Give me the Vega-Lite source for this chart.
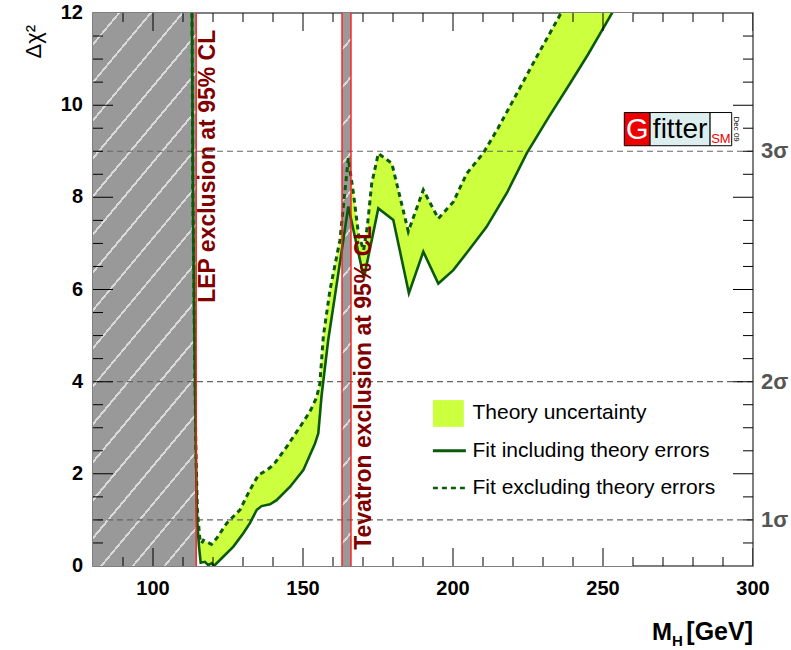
{
 "$schema": "https://vega.github.io/schema/vega-lite/v6.json",
 "width": 660, "height": 553,
 "autosize": {"type": "none"},
 "padding": {"left": 93, "top": 13, "right": 38, "bottom": 84},
 "background": "white",
 "config": {"view": {"stroke": "#555", "strokeWidth": 1.5}, "font": "Liberation Sans", "axis": {"grid": false, "domain": false}},
 "datasets": {
  "dashed": [
   {"x":113.0,"y":12.0},{"x":113.3,"y":8.0},{"x":113.8,"y":5.0},{"x":114.3,"y":2.5},{"x":114.8,"y":1.2},{"x":115.6,"y":0.6},{"x":116.2,"y":0.49},{"x":116.8,"y":0.56},{"x":118.0,"y":0.52},{"x":119.5,"y":0.47},{"x":121.2,"y":0.6},{"x":124.6,"y":0.93},{"x":129.0,"y":1.22},{"x":132.3,"y":1.65},{"x":135.1,"y":1.97},{"x":137.9,"y":2.08},{"x":140.1,"y":2.19},{"x":144.6,"y":2.59},{"x":149.0,"y":3.02},{"x":152.3,"y":3.35},{"x":154.5,"y":3.65},{"x":155.6,"y":3.95},{"x":156.8,"y":5.0},{"x":159.0,"y":5.99},{"x":162.3,"y":7.07},{"x":165.1,"y":8.85},{"x":166.8,"y":8.09},{"x":168.5,"y":7.2},{"x":170.2,"y":6.85},{"x":171.5,"y":7.4},{"x":172.9,"y":8.3},{"x":175.1,"y":8.95},{"x":179.6,"y":8.74},{"x":185.1,"y":7.26},{"x":190.1,"y":8.16},{"x":195.1,"y":7.54},{"x":200.1,"y":7.9},{"x":204.6,"y":8.52},{"x":210.1,"y":8.96},{"x":215.0,"y":9.5},{"x":220.1,"y":10.11},{"x":227.9,"y":11.05},{"x":235.7,"y":11.96},{"x":245.0,"y":13.1},{"x":260.0,"y":14.9}
  ],
  "solid": [
   {"x":113.0,"y":12.0},{"x":113.3,"y":8.0},{"x":113.8,"y":5.0},{"x":114.3,"y":2.5},{"x":114.7,"y":1.0},{"x":115.3,"y":0.45},{"x":115.9,"y":0.07},{"x":117.3,"y":0.09},{"x":118.4,"y":0.02},{"x":119.6,"y":0.06},{"x":120.3,"y":0.0},{"x":123.4,"y":0.2},{"x":126.8,"y":0.42},{"x":130.1,"y":0.71},{"x":132.3,"y":0.93},{"x":134.6,"y":1.22},{"x":136.2,"y":1.3},{"x":139.0,"y":1.34},{"x":141.2,"y":1.43},{"x":145.7,"y":1.72},{"x":150.1,"y":2.08},{"x":154.0,"y":2.66},{"x":155.1,"y":2.88},{"x":156.2,"y":3.7},{"x":158.4,"y":4.9},{"x":161.2,"y":6.1},{"x":165.1,"y":7.8},{"x":170.3,"y":6.25},{"x":175.1,"y":7.76},{"x":180.1,"y":7.51},{"x":185.3,"y":5.92},{"x":190.1,"y":6.82},{"x":195.1,"y":6.13},{"x":200.1,"y":6.42},{"x":205.0,"y":6.83},{"x":211.2,"y":7.36},{"x":218.0,"y":8.1},{"x":224.6,"y":8.96},{"x":232.0,"y":9.75},{"x":239.0,"y":10.47},{"x":245.0,"y":11.1},{"x":250.1,"y":11.67},{"x":253.0,"y":12.0},{"x":260.0,"y":12.8}
  ],
  "xmaj": [{"v":100},{"v":150},{"v":200},{"v":250},{"v":300}],
  "xmin": [{"v":90},{"v":110},{"v":120},{"v":130},{"v":140},{"v":160},{"v":170},{"v":180},{"v":190},{"v":210},{"v":220},{"v":230},{"v":240},{"v":260},{"v":270},{"v":280},{"v":290}],
  "ymaj": [{"v":2},{"v":4},{"v":6},{"v":8},{"v":10}],
  "ylab": [{"v":0},{"v":2},{"v":4},{"v":6},{"v":8},{"v":10},{"v":12}],
  "ymin": [{"v":0.5},{"v":1},{"v":1.5},{"v":2.5},{"v":3},{"v":3.5},{"v":4.5},{"v":5},{"v":5.5},{"v":6.5},{"v":7},{"v":7.5},{"v":8.5},{"v":9},{"v":9.5},{"v":10.5},{"v":11},{"v":11.5}]
 },
 "layer": [
  {
   "data": {"name": "dashed"},
   "mark": {"type": "area", "color": "#ccff3d", "clip": true},
   "encoding": {
    "x": {"field": "x", "type": "quantitative", "scale": {"domain": [80, 300], "nice": false, "zero": false}, "axis": null},
    "y": {"field": "y", "type": "quantitative", "scale": {"domain": [0, 12], "nice": false, "zero": false}, "axis": null}
   }
  },
  {
   "data": {"name": "solid"},
   "mark": {"type": "area", "color": "#ffffff", "clip": true},
   "encoding": {
    "x": {"field": "x", "type": "quantitative", "scale": {"domain": [80, 300], "nice": false, "zero": false}, "axis": null},
    "y": {"field": "y", "type": "quantitative", "scale": {"domain": [0, 12], "nice": false, "zero": false}, "axis": null}
   }
  },
  {
   "data": {"values": [{}]},
   "mark": {"type": "rect", "stroke": null, "fill": {"gradient": "linear", "x1": 0, "y1": 0, "x2": 0.261, "y2": 1.1655, "stops": [
     {"offset": 0, "color": "#999999"},
     {"offset": 0.044, "color": "#999999"},{"offset": 0.044, "color": "#d9d9d9"},{"offset": 0.0486, "color": "#d9d9d9"},{"offset": 0.0486, "color": "#999999"},
     {"offset": 0.1001, "color": "#999999"},{"offset": 0.1001, "color": "#d9d9d9"},{"offset": 0.1047, "color": "#d9d9d9"},{"offset": 0.1047, "color": "#999999"},
     {"offset": 0.1562, "color": "#999999"},{"offset": 0.1562, "color": "#d9d9d9"},{"offset": 0.1608, "color": "#d9d9d9"},{"offset": 0.1608, "color": "#999999"},
     {"offset": 0.2123, "color": "#999999"},{"offset": 0.2123, "color": "#d9d9d9"},{"offset": 0.2169, "color": "#d9d9d9"},{"offset": 0.2169, "color": "#999999"},
     {"offset": 0.2684, "color": "#999999"},{"offset": 0.2684, "color": "#d9d9d9"},{"offset": 0.2730, "color": "#d9d9d9"},{"offset": 0.2730, "color": "#999999"},
     {"offset": 0.3245, "color": "#999999"},{"offset": 0.3245, "color": "#d9d9d9"},{"offset": 0.3291, "color": "#d9d9d9"},{"offset": 0.3291, "color": "#999999"},
     {"offset": 0.3806, "color": "#999999"},{"offset": 0.3806, "color": "#d9d9d9"},{"offset": 0.3852, "color": "#d9d9d9"},{"offset": 0.3852, "color": "#999999"},
     {"offset": 0.4367, "color": "#999999"},{"offset": 0.4367, "color": "#d9d9d9"},{"offset": 0.4413, "color": "#d9d9d9"},{"offset": 0.4413, "color": "#999999"},
     {"offset": 0.4928, "color": "#999999"},{"offset": 0.4928, "color": "#d9d9d9"},{"offset": 0.4974, "color": "#d9d9d9"},{"offset": 0.4974, "color": "#999999"},
     {"offset": 0.5489, "color": "#999999"},{"offset": 0.5489, "color": "#d9d9d9"},{"offset": 0.5535, "color": "#d9d9d9"},{"offset": 0.5535, "color": "#999999"},
     {"offset": 0.6050, "color": "#999999"},{"offset": 0.6050, "color": "#d9d9d9"},{"offset": 0.6096, "color": "#d9d9d9"},{"offset": 0.6096, "color": "#999999"},
     {"offset": 0.6611, "color": "#999999"},{"offset": 0.6611, "color": "#d9d9d9"},{"offset": 0.6657, "color": "#d9d9d9"},{"offset": 0.6657, "color": "#999999"},
     {"offset": 0.7172, "color": "#999999"},{"offset": 0.7172, "color": "#d9d9d9"},{"offset": 0.7218, "color": "#d9d9d9"},{"offset": 0.7218, "color": "#999999"},
     {"offset": 0.7733, "color": "#999999"},{"offset": 0.7733, "color": "#d9d9d9"},{"offset": 0.7779, "color": "#d9d9d9"},{"offset": 0.7779, "color": "#999999"},
     {"offset": 0.8294, "color": "#999999"},{"offset": 0.8294, "color": "#d9d9d9"},{"offset": 0.8340, "color": "#d9d9d9"},{"offset": 0.8340, "color": "#999999"},
     {"offset": 0.8855, "color": "#999999"},{"offset": 0.8855, "color": "#d9d9d9"},{"offset": 0.8901, "color": "#d9d9d9"},{"offset": 0.8901, "color": "#999999"},
     {"offset": 0.9416, "color": "#999999"},{"offset": 0.9416, "color": "#d9d9d9"},{"offset": 0.9462, "color": "#d9d9d9"},{"offset": 0.9462, "color": "#999999"},
     {"offset": 1, "color": "#999999"}
   ]}},
   "encoding": {
    "x": {"datum": 80, "type": "quantitative", "scale": {"domain": [80, 300], "nice": false, "zero": false}, "axis": null},
    "x2": {"datum": 114.4},
    "y": {"datum": 0, "type": "quantitative", "scale": {"domain": [0, 12], "nice": false, "zero": false}, "axis": null},
    "y2": {"datum": 12}
   }
  },
  {
   "data": {"values": [{}]},
   "mark": {"type": "rect", "stroke": null, "fill": {"gradient": "linear", "x1": 0, "y1": 0, "x2": 0.0199, "y2": 1.0191, "stops": [
     {"offset": 0, "color": "#999999"},
     {"offset": 0.0624, "color": "#999999"},{"offset": 0.0624, "color": "#d9d9d9"},{"offset": 0.0679, "color": "#d9d9d9"},{"offset": 0.0679, "color": "#999999"},
     {"offset": 0.1298, "color": "#999999"},{"offset": 0.1298, "color": "#d9d9d9"},{"offset": 0.1353, "color": "#d9d9d9"},{"offset": 0.1353, "color": "#999999"},
     {"offset": 0.1972, "color": "#999999"},{"offset": 0.1972, "color": "#d9d9d9"},{"offset": 0.2027, "color": "#d9d9d9"},{"offset": 0.2027, "color": "#999999"},
     {"offset": 0.2646, "color": "#999999"},{"offset": 0.2646, "color": "#d9d9d9"},{"offset": 0.2701, "color": "#d9d9d9"},{"offset": 0.2701, "color": "#999999"},
     {"offset": 0.3320, "color": "#999999"},{"offset": 0.3320, "color": "#d9d9d9"},{"offset": 0.3375, "color": "#d9d9d9"},{"offset": 0.3375, "color": "#999999"},
     {"offset": 0.3994, "color": "#999999"},{"offset": 0.3994, "color": "#d9d9d9"},{"offset": 0.4049, "color": "#d9d9d9"},{"offset": 0.4049, "color": "#999999"},
     {"offset": 0.4668, "color": "#999999"},{"offset": 0.4668, "color": "#d9d9d9"},{"offset": 0.4723, "color": "#d9d9d9"},{"offset": 0.4723, "color": "#999999"},
     {"offset": 0.5342, "color": "#999999"},{"offset": 0.5342, "color": "#d9d9d9"},{"offset": 0.5397, "color": "#d9d9d9"},{"offset": 0.5397, "color": "#999999"},
     {"offset": 0.6016, "color": "#999999"},{"offset": 0.6016, "color": "#d9d9d9"},{"offset": 0.6071, "color": "#d9d9d9"},{"offset": 0.6071, "color": "#999999"},
     {"offset": 0.6690, "color": "#999999"},{"offset": 0.6690, "color": "#d9d9d9"},{"offset": 0.6745, "color": "#d9d9d9"},{"offset": 0.6745, "color": "#999999"},
     {"offset": 0.7364, "color": "#999999"},{"offset": 0.7364, "color": "#d9d9d9"},{"offset": 0.7419, "color": "#d9d9d9"},{"offset": 0.7419, "color": "#999999"},
     {"offset": 0.8038, "color": "#999999"},{"offset": 0.8038, "color": "#d9d9d9"},{"offset": 0.8093, "color": "#d9d9d9"},{"offset": 0.8093, "color": "#999999"},
     {"offset": 0.8712, "color": "#999999"},{"offset": 0.8712, "color": "#d9d9d9"},{"offset": 0.8767, "color": "#d9d9d9"},{"offset": 0.8767, "color": "#999999"},
     {"offset": 0.9386, "color": "#999999"},{"offset": 0.9386, "color": "#d9d9d9"},{"offset": 0.9441, "color": "#d9d9d9"},{"offset": 0.9441, "color": "#999999"},
     {"offset": 1, "color": "#999999"}
   ]}},
   "encoding": {
    "x": {"datum": 163, "type": "quantitative", "scale": {"domain": [80, 300], "nice": false, "zero": false}, "axis": null},
    "x2": {"datum": 166},
    "y": {"datum": 0, "type": "quantitative", "scale": {"domain": [0, 12], "nice": false, "zero": false}, "axis": null},
    "y2": {"datum": 12}
   }
  },
  {
   "data": {"values": [{"s": 1}, {"s": 4}, {"s": 9}]},
   "mark": {"type": "rule", "color": "#666666", "strokeWidth": 1.2, "strokeDash": [6, 4]},
   "encoding": {
    "y": {"field": "s", "type": "quantitative", "scale": {"domain": [0, 12], "nice": false, "zero": false}, "axis": null}
   }
  },
  {
   "data": {"name": "solid"},
   "mark": {"type": "line", "color": "#0b5a0b", "strokeWidth": 2.6, "clip": true},
   "encoding": {
    "x": {"field": "x", "type": "quantitative", "scale": {"domain": [80, 300], "nice": false, "zero": false}, "axis": null},
    "y": {"field": "y", "type": "quantitative", "scale": {"domain": [0, 12], "nice": false, "zero": false}, "axis": null}
   }
  },
  {
   "data": {"name": "dashed"},
   "mark": {"type": "line", "color": "#0b5a0b", "strokeWidth": 3, "strokeDash": [5, 4], "clip": true},
   "encoding": {
    "x": {"field": "x", "type": "quantitative", "scale": {"domain": [80, 300], "nice": false, "zero": false}, "axis": null},
    "y": {"field": "y", "type": "quantitative", "scale": {"domain": [0, 12], "nice": false, "zero": false}, "axis": null}
   }
  },
  {
   "data": {"values": [{"m": 114.4}, {"m": 163}, {"m": 166}]},
   "mark": {"type": "rule", "color": "#ff1a1a", "strokeWidth": 1.4},
   "encoding": {
    "x": {"field": "m", "type": "quantitative", "scale": {"domain": [80, 300], "nice": false, "zero": false}, "axis": null}
   }
  },
  {
   "data": {"name": "xmaj"},
   "mark": {"type": "tick", "orient": "vertical", "size": 36, "thickness": 1, "color": "#000", "opacity": 1, "clip": true},
   "encoding": {
    "x": {"field": "v", "type": "quantitative", "scale": {"domain": [80, 300], "nice": false, "zero": false}, "axis": null},
    "y": {"datum": 0, "type": "quantitative", "scale": {"domain": [0, 12], "nice": false, "zero": false}, "axis": null}
   }
  },
  {
   "data": {"name": "xmaj"},
   "mark": {"type": "tick", "orient": "vertical", "size": 36, "thickness": 1, "color": "#000", "opacity": 1, "clip": true},
   "encoding": {
    "x": {"field": "v", "type": "quantitative", "scale": {"domain": [80, 300], "nice": false, "zero": false}, "axis": null},
    "y": {"datum": 12, "type": "quantitative", "scale": {"domain": [0, 12], "nice": false, "zero": false}, "axis": null}
   }
  },
  {
   "data": {"name": "xmin"},
   "mark": {"type": "tick", "orient": "vertical", "size": 18, "thickness": 1, "color": "#000", "opacity": 1, "clip": true},
   "encoding": {
    "x": {"field": "v", "type": "quantitative", "scale": {"domain": [80, 300], "nice": false, "zero": false}, "axis": null},
    "y": {"datum": 0, "type": "quantitative", "scale": {"domain": [0, 12], "nice": false, "zero": false}, "axis": null}
   }
  },
  {
   "data": {"name": "xmin"},
   "mark": {"type": "tick", "orient": "vertical", "size": 18, "thickness": 1, "color": "#000", "opacity": 1, "clip": true},
   "encoding": {
    "x": {"field": "v", "type": "quantitative", "scale": {"domain": [80, 300], "nice": false, "zero": false}, "axis": null},
    "y": {"datum": 12, "type": "quantitative", "scale": {"domain": [0, 12], "nice": false, "zero": false}, "axis": null}
   }
  },
  {
   "data": {"name": "ymaj"},
   "mark": {"type": "tick", "orient": "horizontal", "size": 40, "thickness": 1, "color": "#000", "opacity": 1, "clip": true},
   "encoding": {
    "y": {"field": "v", "type": "quantitative", "scale": {"domain": [0, 12], "nice": false, "zero": false}, "axis": null},
    "x": {"datum": 80, "type": "quantitative", "scale": {"domain": [80, 300], "nice": false, "zero": false}, "axis": null}
   }
  },
  {
   "data": {"name": "ymaj"},
   "mark": {"type": "tick", "orient": "horizontal", "size": 40, "thickness": 1, "color": "#000", "opacity": 1, "clip": true},
   "encoding": {
    "y": {"field": "v", "type": "quantitative", "scale": {"domain": [0, 12], "nice": false, "zero": false}, "axis": null},
    "x": {"datum": 300, "type": "quantitative", "scale": {"domain": [80, 300], "nice": false, "zero": false}, "axis": null}
   }
  },
  {
   "data": {"name": "ymin"},
   "mark": {"type": "tick", "orient": "horizontal", "size": 20, "thickness": 1, "color": "#000", "opacity": 1, "clip": true},
   "encoding": {
    "y": {"field": "v", "type": "quantitative", "scale": {"domain": [0, 12], "nice": false, "zero": false}, "axis": null},
    "x": {"datum": 80, "type": "quantitative", "scale": {"domain": [80, 300], "nice": false, "zero": false}, "axis": null}
   }
  },
  {
   "data": {"name": "ymin"},
   "mark": {"type": "tick", "orient": "horizontal", "size": 20, "thickness": 1, "color": "#000", "opacity": 1, "clip": true},
   "encoding": {
    "y": {"field": "v", "type": "quantitative", "scale": {"domain": [0, 12], "nice": false, "zero": false}, "axis": null},
    "x": {"datum": 300, "type": "quantitative", "scale": {"domain": [80, 300], "nice": false, "zero": false}, "axis": null}
   }
  },
  {
   "data": {"name": "xmaj"},
   "mark": {"type": "text", "align": "center", "baseline": "top", "dy": 13, "fontSize": 20, "fontWeight": "bold", "color": "#000"},
   "encoding": {
    "x": {"field": "v", "type": "quantitative", "scale": {"domain": [80, 300], "nice": false, "zero": false}, "axis": null},
    "y": {"datum": 0, "type": "quantitative", "scale": {"domain": [0, 12], "nice": false, "zero": false}, "axis": null},
    "text": {"field": "v", "type": "quantitative"}
   }
  },
  {
   "data": {"name": "ylab"},
   "mark": {"type": "text", "align": "right", "baseline": "middle", "dx": -10, "fontSize": 20, "fontWeight": "bold", "color": "#000"},
   "encoding": {
    "y": {"field": "v", "type": "quantitative", "scale": {"domain": [0, 12], "nice": false, "zero": false}, "axis": null},
    "x": {"datum": 80, "type": "quantitative", "scale": {"domain": [80, 300], "nice": false, "zero": false}, "axis": null},
    "text": {"field": "v", "type": "quantitative"}
   }
  },
  {
   "data": {"values": [{}]},
   "mark": {"type": "text", "text": "Δχ²", "angle": 270, "align": "right", "baseline": "alphabetic", "fontSize": 22, "color": "#000"},
   "encoding": {
    "x": {"datum": 62.67, "type": "quantitative", "scale": {"domain": [80, 300], "nice": false, "zero": false}, "axis": null},
    "y": {"datum": 11.74, "type": "quantitative", "scale": {"domain": [0, 12], "nice": false, "zero": false}, "axis": null}
   }
  },
  {
   "data": {"values": [{}]},
   "mark": {"type": "text", "text": "LEP exclusion at 95% CL", "angle": 270, "align": "left", "baseline": "alphabetic", "fontSize": 23, "fontWeight": "bold", "color": "#800000"},
   "encoding": {
    "x": {"datum": 120.67, "type": "quantitative", "scale": {"domain": [80, 300], "nice": false, "zero": false}, "axis": null},
    "y": {"datum": 5.71, "type": "quantitative", "scale": {"domain": [0, 12], "nice": false, "zero": false}, "axis": null}
   }
  },
  {
   "data": {"values": [{}]},
   "mark": {"type": "text", "text": "Tevatron exclusion at 95% CL", "angle": 270, "align": "left", "baseline": "alphabetic", "fontSize": 23, "fontWeight": "bold", "color": "#800000"},
   "encoding": {
    "x": {"datum": 172.5, "type": "quantitative", "scale": {"domain": [80, 300], "nice": false, "zero": false}, "axis": null},
    "y": {"datum": 0.35, "type": "quantitative", "scale": {"domain": [0, 12], "nice": false, "zero": false}, "axis": null}
   }
  },
  {
   "data": {"values": [{}]},
   "mark": {"type": "rect", "color": "#ccff3d"},
   "encoding": {
    "x": {"datum": 193.3, "type": "quantitative", "scale": {"domain": [80, 300], "nice": false, "zero": false}, "axis": null},
    "x2": {"datum": 203.6},
    "y": {"datum": 3.02, "type": "quantitative", "scale": {"domain": [0, 12], "nice": false, "zero": false}, "axis": null},
    "y2": {"datum": 3.6}
   }
  },
  {
   "data": {"values": [{}]},
   "mark": {"type": "rule", "color": "#0b5a0b", "strokeWidth": 3},
   "encoding": {
    "x": {"datum": 193.3, "type": "quantitative", "scale": {"domain": [80, 300], "nice": false, "zero": false}, "axis": null},
    "x2": {"datum": 204.3},
    "y": {"datum": 2.5, "type": "quantitative", "scale": {"domain": [0, 12], "nice": false, "zero": false}, "axis": null}
   }
  },
  {
   "data": {"values": [{}]},
   "mark": {"type": "rule", "color": "#0b5a0b", "strokeWidth": 2.5, "strokeDash": [5, 4]},
   "encoding": {
    "x": {"datum": 193.3, "type": "quantitative", "scale": {"domain": [80, 300], "nice": false, "zero": false}, "axis": null},
    "x2": {"datum": 204.3},
    "y": {"datum": 1.69, "type": "quantitative", "scale": {"domain": [0, 12], "nice": false, "zero": false}, "axis": null}
   }
  },
  {
   "data": {"values": [{}]},
   "mark": {"type": "text", "text": "Theory uncertainty", "align": "left", "baseline": "middle", "fontSize": 21, "color": "#000"},
   "encoding": {
    "x": {"datum": 206.5, "type": "quantitative", "scale": {"domain": [80, 300], "nice": false, "zero": false}, "axis": null},
    "y": {"datum": 3.31, "type": "quantitative", "scale": {"domain": [0, 12], "nice": false, "zero": false}, "axis": null}
   }
  },
  {
   "data": {"values": [{}]},
   "mark": {"type": "text", "text": "Fit including theory errors", "align": "left", "baseline": "middle", "fontSize": 21, "color": "#000"},
   "encoding": {
    "x": {"datum": 206.5, "type": "quantitative", "scale": {"domain": [80, 300], "nice": false, "zero": false}, "axis": null},
    "y": {"datum": 2.5, "type": "quantitative", "scale": {"domain": [0, 12], "nice": false, "zero": false}, "axis": null}
   }
  },
  {
   "data": {"values": [{}]},
   "mark": {"type": "text", "text": "Fit excluding theory errors", "align": "left", "baseline": "middle", "fontSize": 21, "color": "#000"},
   "encoding": {
    "x": {"datum": 206.5, "type": "quantitative", "scale": {"domain": [80, 300], "nice": false, "zero": false}, "axis": null},
    "y": {"datum": 1.69, "type": "quantitative", "scale": {"domain": [0, 12], "nice": false, "zero": false}, "axis": null}
   }
  },
  {
   "data": {"values": [{"s": 1, "t": "1σ"}, {"s": 4, "t": "2σ"}, {"s": 9, "t": "3σ"}]},
   "mark": {"type": "text", "align": "left", "baseline": "middle", "dx": 8, "fontSize": 22, "fontWeight": "bold", "color": "#555555"},
   "encoding": {
    "x": {"datum": 300, "type": "quantitative", "scale": {"domain": [80, 300], "nice": false, "zero": false}, "axis": null},
    "y": {"field": "s", "type": "quantitative", "scale": {"domain": [0, 12], "nice": false, "zero": false}, "axis": null},
    "text": {"field": "t"}
   }
  },
  {
   "data": {"values": [{}]},
   "mark": {"type": "rect", "color": "#ee0000", "stroke": "#000", "strokeWidth": 1},
   "encoding": {
    "x": {"datum": 257.1, "type": "quantitative", "scale": {"domain": [80, 300], "nice": false, "zero": false}, "axis": null},
    "x2": {"datum": 265.7},
    "y": {"datum": 9.12, "type": "quantitative", "scale": {"domain": [0, 12], "nice": false, "zero": false}, "axis": null},
    "y2": {"datum": 9.84}
   }
  },
  {
   "data": {"values": [{}]},
   "mark": {"type": "rect", "color": "#dcefee", "stroke": "#000", "strokeWidth": 1},
   "encoding": {
    "x": {"datum": 265.7, "type": "quantitative", "scale": {"domain": [80, 300], "nice": false, "zero": false}, "axis": null},
    "x2": {"datum": 285.7},
    "y": {"datum": 9.12, "type": "quantitative", "scale": {"domain": [0, 12], "nice": false, "zero": false}, "axis": null},
    "y2": {"datum": 9.84}
   }
  },
  {
   "data": {"values": [{}]},
   "mark": {"type": "rect", "color": "#ffffff", "stroke": "#000", "strokeWidth": 1},
   "encoding": {
    "x": {"datum": 285.7, "type": "quantitative", "scale": {"domain": [80, 300], "nice": false, "zero": false}, "axis": null},
    "x2": {"datum": 292.9},
    "y": {"datum": 9.12, "type": "quantitative", "scale": {"domain": [0, 12], "nice": false, "zero": false}, "axis": null},
    "y2": {"datum": 9.84}
   }
  },
  {
   "data": {"values": [{}]},
   "mark": {"type": "text", "text": "G", "align": "center", "baseline": "middle", "fontSize": 29, "color": "#ffffff"},
   "encoding": {
    "x": {"datum": 261.4, "type": "quantitative", "scale": {"domain": [80, 300], "nice": false, "zero": false}, "axis": null},
    "y": {"datum": 9.46, "type": "quantitative", "scale": {"domain": [0, 12], "nice": false, "zero": false}, "axis": null}
   }
  },
  {
   "data": {"values": [{}]},
   "mark": {"type": "text", "text": "fitter", "align": "center", "baseline": "middle", "fontSize": 28, "color": "#000000"},
   "encoding": {
    "x": {"datum": 275.7, "type": "quantitative", "scale": {"domain": [80, 300], "nice": false, "zero": false}, "axis": null},
    "y": {"datum": 9.46, "type": "quantitative", "scale": {"domain": [0, 12], "nice": false, "zero": false}, "axis": null}
   }
  },
  {
   "data": {"values": [{}]},
   "mark": {"type": "text", "text": "SM", "align": "center", "baseline": "alphabetic", "fontSize": 13, "color": "#ee0000"},
   "encoding": {
    "x": {"datum": 289.3, "type": "quantitative", "scale": {"domain": [80, 300], "nice": false, "zero": false}, "axis": null},
    "y": {"datum": 9.17, "type": "quantitative", "scale": {"domain": [0, 12], "nice": false, "zero": false}, "axis": null}
   }
  },
  {
   "data": {"values": [{}]},
   "mark": {"type": "text", "text": "Dec 09", "angle": 90, "align": "center", "baseline": "middle", "fontSize": 8, "color": "#000000"},
   "encoding": {
    "x": {"datum": 294.4, "type": "quantitative", "scale": {"domain": [80, 300], "nice": false, "zero": false}, "axis": null},
    "y": {"datum": 9.48, "type": "quantitative", "scale": {"domain": [0, 12], "nice": false, "zero": false}, "axis": null}
   }
  },
  {
   "data": {"values": [{}]},
   "mark": {"type": "text", "text": "[GeV]", "align": "right", "baseline": "alphabetic", "dy": 74, "fontSize": 25, "fontWeight": "bold", "color": "#000000"},
   "encoding": {
    "x": {"datum": 300, "type": "quantitative", "scale": {"domain": [80, 300], "nice": false, "zero": false}, "axis": null},
    "y": {"datum": 0, "type": "quantitative", "scale": {"domain": [0, 12], "nice": false, "zero": false}, "axis": null}
   }
  },
  {
   "data": {"values": [{}]},
   "mark": {"type": "text", "text": "H", "align": "left", "baseline": "alphabetic", "dx": -81, "dy": 80, "fontSize": 15, "fontWeight": "bold", "color": "#000000"},
   "encoding": {
    "x": {"datum": 300, "type": "quantitative", "scale": {"domain": [80, 300], "nice": false, "zero": false}, "axis": null},
    "y": {"datum": 0, "type": "quantitative", "scale": {"domain": [0, 12], "nice": false, "zero": false}, "axis": null}
   }
  },
  {
   "data": {"values": [{}]},
   "mark": {"type": "text", "text": "M", "align": "left", "baseline": "alphabetic", "dx": -101, "dy": 74, "fontSize": 24, "fontWeight": "bold", "color": "#000000"},
   "encoding": {
    "x": {"datum": 300, "type": "quantitative", "scale": {"domain": [80, 300], "nice": false, "zero": false}, "axis": null},
    "y": {"datum": 0, "type": "quantitative", "scale": {"domain": [0, 12], "nice": false, "zero": false}, "axis": null}
   }
  }
 ]
}
